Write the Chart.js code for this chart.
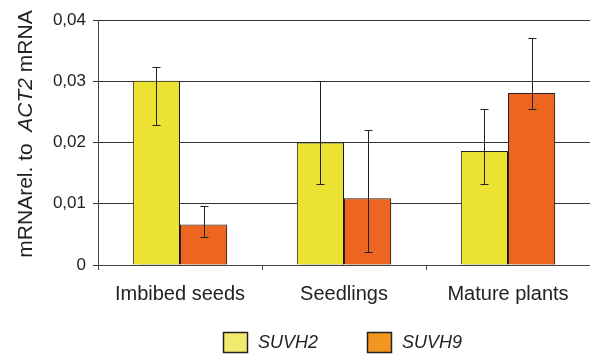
<!DOCTYPE html>
<html>
<head>
<meta charset="utf-8">
<script src="https://cdn.jsdelivr.net/npm/chart.js@4"></script>
<style>
    html, body { margin: 0; padding: 0; background: #fff; }
    #wrap { width: 590px; height: 355px; }
</style>
</head>
<body>
<div id="wrap"><canvas id="barChart" width="590" height="355"></canvas></div>
<script>
const categories = ['Imbibed seeds', 'Seedlings', 'Mature plants'];
const seriesNames = ['SUVH2', 'SUVH9'];
const suvh2 = [0.0301, 0.0200, 0.0186];
const suvh9 = [0.0066, 0.0109, 0.0281];
const suvh2Low = [0.0228, 0.0132, 0.0132];
const suvh2High = [0.0323, 0.0301, 0.0254];
const suvh9Low = [0.0046, 0.0021, 0.0254];
const suvh9High = [0.0097, 0.0220, 0.0371];
const yTickLabels = ['0', '0,01', '0,02', '0,03', '0,04'];

const FONT = "'Liberation Sans', Arial, Helvetica, sans-serif";
const barColors = ['#ebe231', '#ee6421'];
const legendColors = ['#f2ea6c', '#f3961f'];

// soft grey shadow right of the bars, then the error bars on top
const errorBars = {
    id: 'errorBars',
    beforeDatasetsDraw(chart) {
        const ctx = chart.ctx;
        ctx.save();
        ctx.shadowColor = 'rgba(0,0,0,0.35)';
        ctx.shadowOffsetX = 2;
        ctx.shadowOffsetY = 1;
        ctx.shadowBlur = 1;
    },
    afterDatasetsDraw(chart) {
        const ctx = chart.ctx;
        ctx.restore();
        const y = chart.scales.y;
        const lows = [suvh2Low, suvh9Low];
        const highs = [suvh2High, suvh9High];
        ctx.save();
        ctx.strokeStyle = '#222';
        ctx.lineWidth = 1;
        chart.data.datasets.forEach((ds, di) => {
            chart.getDatasetMeta(di).data.forEach((bar, i) => {
                const x = Math.round(bar.x) + 0.5;
                const top = Math.round(y.getPixelForValue(highs[di][i])) + 0.5;
                const bottom = Math.round(y.getPixelForValue(lows[di][i])) + 0.5;
                ctx.beginPath();
                ctx.moveTo(x, top);
                ctx.lineTo(x, bottom);
                ctx.moveTo(x - 4, top);
                ctx.lineTo(x + 4, top);
                ctx.moveTo(x - 4, bottom);
                ctx.lineTo(x + 4, bottom);
                ctx.stroke();
            });
        });
        ctx.restore();
    }
};

// y title with italic gene name, and the legend under the axis
const extras = {
    id: 'extras',
    afterDraw(chart) {
        const ctx = chart.ctx;
        ctx.save();
        ctx.fillStyle = '#222';
        ctx.textBaseline = 'middle';

        const parts = [
            { t: 'mRNArel. to  ', s: 'normal' },
            { t: 'ACT2', s: 'italic' },
            { t: ' mRNA', s: 'normal' }
        ];
        let total = 0;
        parts.forEach(p => {
            ctx.font = p.s + ' 21px ' + FONT;
            p.w = ctx.measureText(p.t).width;
            total += p.w;
        });
        ctx.translate(26, 134);
        ctx.rotate(-Math.PI / 2);
        let px = -total / 2;
        ctx.textAlign = 'left';
        parts.forEach(p => {
            ctx.font = p.s + ' 21px ' + FONT;
            ctx.fillText(p.t, px, 0);
            px += p.w;
        });
        ctx.setTransform(1, 0, 0, 1, 0, 0);

        const boxX = [223, 367];
        seriesNames.forEach((name, i) => {
            ctx.fillStyle = legendColors[i];
            ctx.fillRect(boxX[i] + 0.5, 332.5, 24, 20);
            ctx.strokeStyle = '#222';
            ctx.lineWidth = 1.5;
            ctx.strokeRect(boxX[i] + 0.5, 332.5, 24, 20);
            ctx.fillStyle = '#222';
            ctx.font = 'italic 18px ' + FONT;
            ctx.fillText(name, boxX[i] + 35, 343);
        });
        ctx.restore();
    }
};

new Chart(document.getElementById('barChart').getContext('2d'), {
    type: 'bar',
    data: {
        labels: categories,
        datasets: [
            { label: seriesNames[0], data: suvh2, backgroundColor: barColors[0], borderColor: '#222', borderWidth: 1 },
            { label: seriesNames[1], data: suvh9, backgroundColor: barColors[1], borderColor: '#222', borderWidth: 1 }
        ]
    },
    options: {
        responsive: false,
        animation: false,
        categoryPercentage: 0.575,
        barPercentage: 1,
        layout: { padding: { top: 20, right: 0, bottom: 0, left: 0 } },
        plugins: {
            legend: { display: false },
            tooltip: { enabled: false }
        },
        scales: {
            x: {
                grid: { drawOnChartArea: false, drawTicks: true, tickLength: 5, color: '#444', offset: true },
                border: { display: true, color: '#444', width: 1 },
                ticks: { color: '#222', font: { family: FONT, size: 20 }, padding: 12, maxRotation: 0 },
                afterFit(scale) { scale.height = 90; }
            },
            y: {
                min: 0,
                max: 0.04,
                ticks: {
                    stepSize: 0.01,
                    color: '#222',
                    font: { family: FONT, size: 17 },
                    padding: 7,
                    callback: (v, i) => yTickLabels[i]
                },
                grid: { color: '#333', lineWidth: 1, tickLength: 5 },
                border: { display: true, color: '#444', width: 1 },
                afterFit(scale) { scale.width = 98; }
            }
        }
    },
    plugins: [errorBars, extras]
});
</script>
</body>
</html>
